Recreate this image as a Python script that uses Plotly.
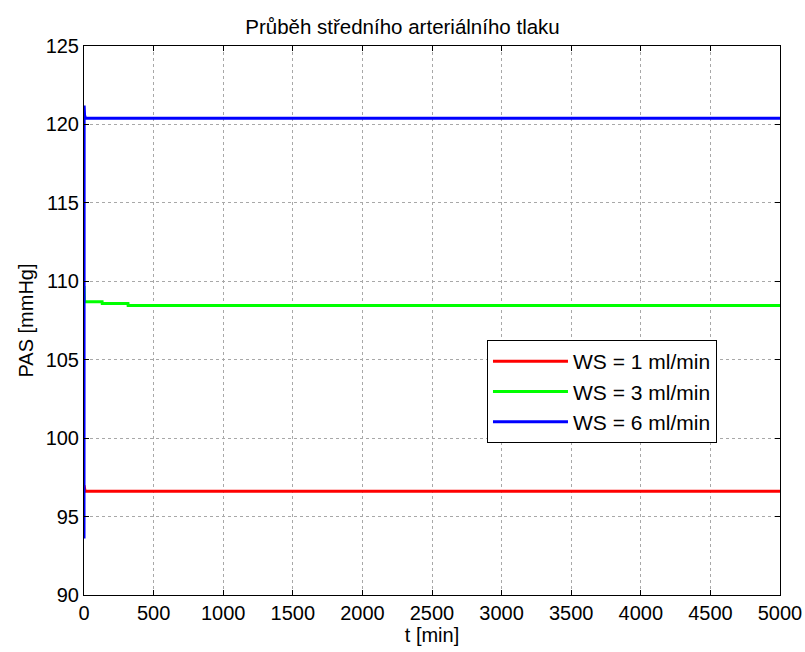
import plotly.graph_objects as go

# Simulation time [min] and mean arterial pressure [mmHg] for each infusion rate
t_ws1 = [0, 2, 8, 5000]
pas_ws1 = [97.0, 96.75, 96.62, 96.62]

t_ws3 = [0, 2, 8, 130, 131, 316, 317, 5000]
pas_ws3 = [109.7, 108.8, 108.7, 108.7, 108.58, 108.58, 108.45, 108.45]

t_ws6 = [0, 1, 4, 10, 5000]
pas_ws6 = [93.6, 121.2, 120.6, 120.4, 120.4]

series = [
    ("WS = 1 ml/min", t_ws1, pas_ws1, "#ff0000"),
    ("WS = 3 ml/min", t_ws3, pas_ws3, "#00ff00"),
    ("WS = 6 ml/min", t_ws6, pas_ws6, "#0000ff"),
]

x_ticks = list(range(0, 5001, 500))
y_ticks = list(range(90, 126, 5))

fig = go.Figure()
for name, t, p, color in series:
    fig.add_trace(go.Scatter(x=t, y=p, mode="lines", name=name,
                             line=dict(color=color, width=3)))

family = "Liberation Sans, Arial, sans-serif"
font = dict(family=family, size=20, color="#000000")

axis_common = dict(
    showline=True, linecolor="#000000", linewidth=1, mirror="ticks",
    ticks="inside", ticklen=5, tickcolor="#000000",
    showgrid=True, gridcolor="#a8a8a8", griddash="dot", gridwidth=1,
    zeroline=False, tickfont=font, automargin=False,
)

fig.update_layout(
    width=805, height=652,
    margin=dict(l=84, r=25, t=46, b=57),
    paper_bgcolor="#ffffff", plot_bgcolor="#ffffff",
    font=font,
    title=dict(text="Průběh středního arteriálního tlaku", x=0.5, xanchor="center",
               y=1 - 27 / 652, yanchor="middle",
               font=dict(family=family, size=20.5, color="#000000")),
    xaxis=dict(range=[0, 5000], tickvals=x_ticks,
               title=dict(text="t [min]", standoff=2, font=font), **axis_common),
    yaxis=dict(range=[90, 125], tickvals=y_ticks,
               title=dict(text="PAS [mmHg]", standoff=6, font=font), **axis_common),
    legend=dict(x=0.579, y=0.4645, xanchor="left", yanchor="top",
                bgcolor="#ffffff", bordercolor="#000000", borderwidth=1,
                font=dict(family=family, size=21, color="#000000"),
                itemwidth=75, tracegroupgap=0),
    showlegend=True,
)

fig.write_html("out.html")
